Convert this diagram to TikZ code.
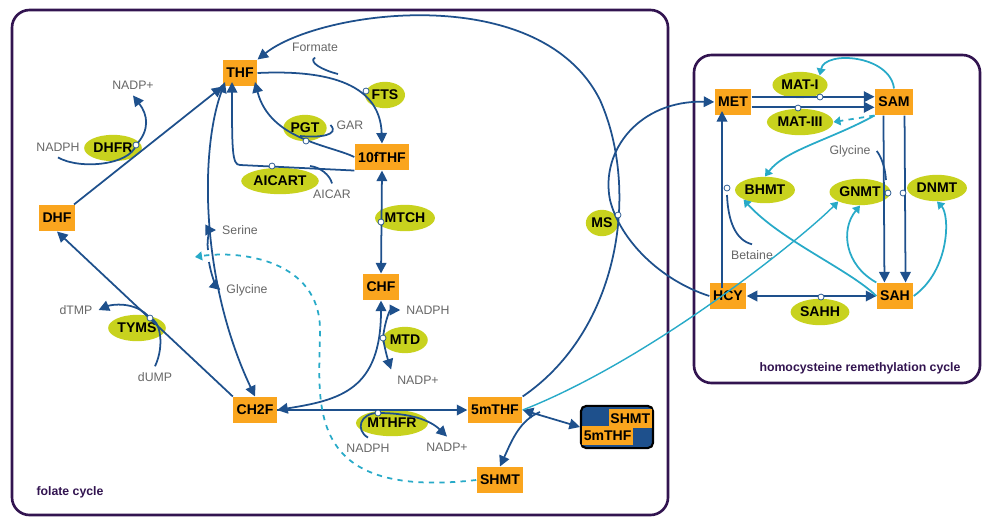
\documentclass[tikz,border=0pt]{standalone}
\usepackage{fontspec}
\setmainfont{Liberation Sans}
\usetikzlibrary{arrows.meta,shapes.geometric}
\definecolor{dblue}{RGB}{30,80,140}
\definecolor{cyanl}{RGB}{40,170,200}
\definecolor{orng}{RGB}{250,165,30}
\definecolor{lime}{RGB}{200,210,30}
\definecolor{frame}{RGB}{50,20,80}
\begin{document}
\begin{tikzpicture}[x=0.02cm,y=-0.02cm,
 met/.style={fill=orng,font=\bfseries\footnotesize,inner sep=2pt,minimum height=15pt},
 enz/.style={ellipse,fill=lime,font=\bfseries\footnotesize,inner sep=0.5pt,minimum height=15pt},
 lab/.style={font=\scriptsize,text=gray!80!black},
 ed/.style={draw=dblue,line width=1pt,-{Triangle[length=6pt,width=6pt]}},
 bi/.style={draw=dblue,line width=1pt,{Triangle[length=6pt,width=6pt]}-{Triangle[length=6pt,width=6pt]}},
 ln/.style={draw=dblue,line width=1pt},
 cy/.style={draw=cyanl,line width=1pt,-{Triangle[length=4pt,width=5pt]}},
 cat/.style={circle,draw=dblue,fill=white,inner sep=1.2pt}]
\useasboundingbox (0,0) rectangle (1000,525);
\draw[frame,line width=1.5pt,rounded corners=10pt] (12,10) rectangle (668,515);
\draw[frame,line width=1.5pt,rounded corners=10pt] (694,55) rectangle (980,383);
\node[font=\bfseries\scriptsize,text=frame] at (70,492) {folate cycle};
\node[font=\bfseries\scriptsize,text=frame] at (860,368) {homocysteine remethylation cycle};
% metabolites
\node[met] (THF) at (240,73) {THF};
\node[met] (F10) at (382,157) {10fTHF};
\node[met] (CHF) at (381,287) {CHF};
\node[met] (CH2F) at (255,410) {CH2F};
\node[met] (M5) at (495,410) {5mTHF};
\node[met] (SHMT) at (500,480) {SHMT};
\node[met] (DHF) at (57,218) {DHF};
\node[draw=black,line width=1.2pt,rounded corners=3pt,fill=dblue,minimum width=41pt,minimum height=24pt,inner sep=0pt] (CX) at (617,427) {};
\node[met,anchor=north east,minimum height=11pt,inner sep=1pt] at ([xshift=-1pt,yshift=-2pt]CX.north east) {SHMT};
\node[met,anchor=south west,minimum height=11pt,inner sep=1pt] at ([xshift=1pt,yshift=2pt]CX.south west) {5mTHF};
\node[met] (MET) at (733,102) {MET};
\node[met] (SAM) at (894,102) {SAM};
\node[met] (HCY) at (728,296) {HCY};
\node[met] (SAH) at (895,296) {SAH};
% enzymes
\node[enz] (DHFR) at (113,148) {DHFR};
\node[enz] (FTS) at (385,95) {FTS};
\node[enz] (PGT) at (305,128) {PGT};
\node[enz] (AICART) at (280,181) {AICART};
\node[enz] (MTCH) at (405,218) {MTCH};
\node[enz] (MTD) at (405,340) {MTD};
\node[enz] (MTHFR) at (392,423) {MTHFR};
\node[enz] (TYMS) at (137,328) {TYMS};
\node[enz] (MS) at (602,223) {MS};
\node[enz] (MATI) at (800,85) {MAT-I};
\node[enz] (MATIII) at (800,122) {MAT-III};
\node[enz] (BHMT) at (765,190) {BHMT};
\node[enz] (GNMT) at (860,192) {GNMT};
\node[enz] (DNMT) at (937,188) {DNMT};
\node[enz] (SAHH) at (820,312) {SAHH};
% labels
\node[lab] (NADPp1) at (133,85) {NADP+};
\node[lab] (NADPH1) at (58,147) {NADPH};
\node[lab] (Form) at (315,47) {Formate};
\node[lab] (GAR) at (350,125) {GAR};
\node[lab] (AICAR) at (332,194) {AICAR};
\node[lab] (Ser) at (240,230) {Serine};
\node[lab] (Gly) at (247,290) {Glycine};
\node[lab] (dTMP) at (76,310) {dTMP};
\node[lab] (dUMP) at (155,377) {dUMP};
\node[lab] (NADPH2) at (428,310) {NADPH};
\node[lab] (NADPp2) at (418,380) {NADP+};
\node[lab] (NADPH3) at (368,448) {NADPH};
\node[lab] (NADPp3) at (447,447) {NADP+};
\node[lab] (Gly2) at (850,151) {Glycine};
\node[lab] (Bet) at (752,255) {Betaine};
% folate edges
\draw[ed] (DHF) -- (THF.south west);
\coordinate (c1) at (136,145);
\draw[ln] (NADPH1.south) .. controls (80,170) and (130,165) .. (c1);
\draw[ed] (c1) .. controls (150,130) and (148,115) .. (NADPp1.south);
\node[cat] at (c1) {};
\draw[ed] (CH2F.north west) -- (DHF.south);
\coordinate (c2) at (150,318);
\draw[ed] (dUMP.north) .. controls (165,345) and (160,320) .. (c2) .. controls (135,300) and (110,305) .. (dTMP.east);
\node[cat] at (c2) {};
\draw[ed] (THF.east) .. controls (320,70) and (380,80) .. (F10.north);
\draw[ln] (Form.south) .. controls (308,62) and (322,70) .. (338,74);
\node[cat] at (366,91) {};
\draw[ed] (F10.west) .. controls (330,145) and (270,140) .. (255,82);
\draw[ln] (GAR.west) .. controls (340,135) and (320,138) .. (300,136);
\node[cat] at (306,141) {};
\draw[ed] (F10.south west) -- (240,165) .. controls (232,165) and (232,150) .. (232,82);
\draw[ln] (AICAR.north) .. controls (330,175) and (320,167) .. (310,166);
\node[cat] at (272,166) {};
\draw[bi] (CHF.north) -- (F10.south);
\node[cat] at (381,222) {};
\draw[bi] (CH2F.east) .. controls (340,400) and (381,390) .. (CHF.south);
\coordinate (c3) at (383,338);
\draw[ed] (c3) .. controls (385,320) and (390,310) .. (NADPH2.west);
\draw[ed] (c3) .. controls (385,350) and (388,360) .. (NADPp2.north west);
\node[cat] at (c3) {};
\draw[ed] (CH2F.east) -- (M5.west);
\coordinate (c4) at (378,413);
\draw[ln] (NADPH3.north) .. controls (355,430) and (360,413) .. (c4);
\draw[ed] (c4) .. controls (410,413) and (430,420) .. (NADPp3.north);
\node[cat] at (c4) {};
\draw[bi] (CH2F.north) .. controls (200,280) and (200,150) .. (225,82);
\draw[ed] (208,250) .. controls (206,236) and (212,230) .. (Ser.west);
\draw[ed] (209,262) .. controls (212,280) and (218,288) .. (Gly.west);
\draw[ed] (M5.north east) .. controls (620,330) and (640,190) .. (600,100) .. controls (540,-20) and (320,10) .. (THF.north east);
\draw[ed] (HCY.west) .. controls (660,280) and (620,240) .. (610,200) .. controls (600,150) and (640,100) .. (MET.west);
\node[cat] at (618,215) {};
\draw[bi] (M5.east) -- (CX.west);
\draw[ed] (540,412) .. controls (520,420) and (512,440) .. (SHMT.north);
\draw[cy,dashed] (SHMT.west) .. controls (300,500) and (320,400) .. (320,330) .. controls (320,260) and (240,250) .. (195,257);
\draw[cy,line width=0.8pt] (M5.east) .. controls (650,360) and (800,240) .. (GNMT.south west);
% homocysteine
\draw[ed] ([yshift=-3pt]MET.east) -- ([yshift=-3pt]SAM.west);
\draw[ed] ([yshift=3pt]MET.east) -- ([yshift=3pt]SAM.west);
\node[cat] at (820,97) {};
\node[cat] at (798,108) {};
\draw[ed] ([xshift=-6pt]SAM.south) -- ([xshift=-6pt]SAH.north);
\draw[ed] ([xshift=6pt]SAM.south) -- ([xshift=6pt]SAH.north);
\node[cat] at (888,193) {};
\node[cat] at (903,193) {};
\draw[ln] (Gly2.east) .. controls (880,155) and (885,165) .. (886,180);
\draw[bi] (HCY.east) -- (SAH.west);
\node[cat] at (821,297) {};
\draw[ed] (722,288) -- (722,111);
\node[cat] at (727,188) {};
\draw[ln] (Bet.north) .. controls (735,240) and (728,220) .. (727,195);
\draw[cy] (SAM.north) .. controls (890,55) and (825,50) .. (MATI.north east);
\draw[cy,dashed] (SAM.south west) -- (MATIII.east);
\draw[cy] (SAM.south west) .. controls (830,140) and (785,150) .. (BHMT.north);
\draw[cy] (SAH.west) .. controls (850,270) and (780,240) .. (BHMT.south west);
\draw[cy] (SAH.north west) .. controls (845,265) and (840,230) .. (GNMT.south);
\draw[cy] (SAH.east) .. controls (950,270) and (950,215) .. (DNMT.south);
\end{tikzpicture}
\end{document}
